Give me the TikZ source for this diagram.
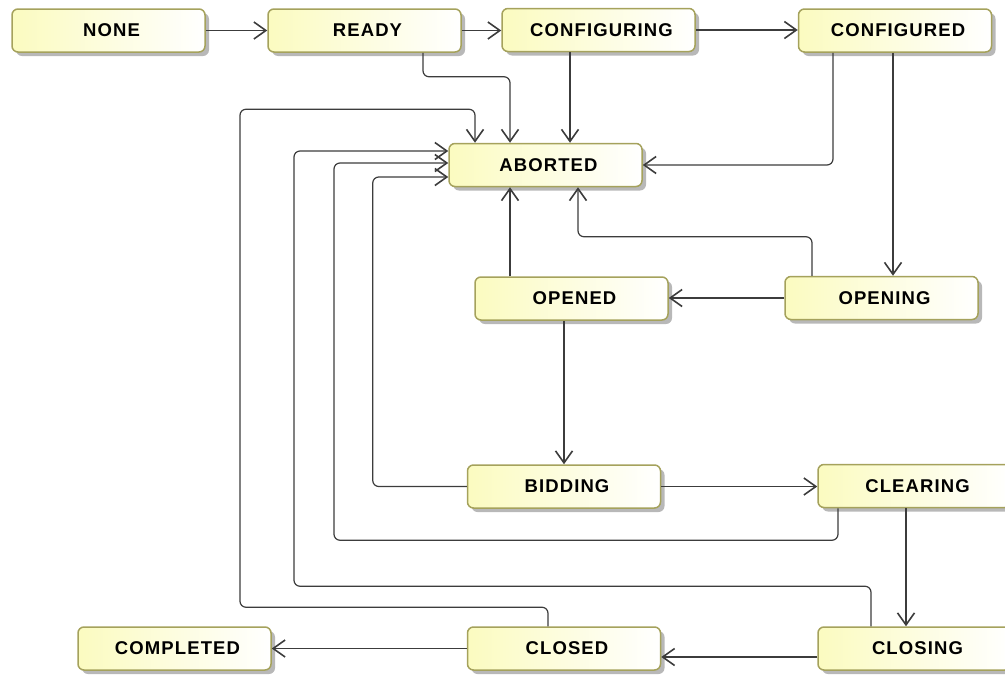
\documentclass[tikz,border=0pt]{standalone}
\usepackage{fontspec}
\newfontfamily\boxfont[LetterSpace=6]{Liberation Sans}
\usetikzlibrary{arrows.meta,shadows,calc}
\definecolor{boxborder}{RGB}{165,162,92}
\definecolor{boxfill}{RGB}{251,251,192}
\definecolor{connline}{RGB}{60,60,60}
\definecolor{shadowgray}{RGB}{184,184,184}
\begin{document}
\begin{tikzpicture}[x=1pt,y=-1pt,
  statebox/.style={rectangle, rounded corners=6pt, minimum width=193pt,
    minimum height=43pt, inner sep=0pt, draw=boxborder, line width=1.5pt,
    left color=boxfill, right color=white,
    drop shadow={shadow xshift=4pt, shadow yshift=-4pt, fill=shadowgray, opacity=1},
    font=\boxfont\bfseries\fontsize{18.5}{20}\selectfont,
    execute at begin node=\hspace*{6pt}},
  conn/.style={draw=connline, line width=1.2pt, rounded corners=6pt,
    -{Straight Barb[length=12pt,width=17pt,line width=1.6pt]}}]
\useasboundingbox (0,0) rectangle (1005,675);

% states
\node[statebox] (NONE)        at (108.5,30.5) {NONE};
\node[statebox] (READY)       at (364.5,30.5) {READY};
\node[statebox] (CONFIGURING) at (598.5,30)   {CONFIGURING};
\node[statebox] (CONFIGURED)  at (895,30.5)   {CONFIGURED};
\node[statebox] (ABORTED)     at (545.5,165)  {ABORTED};
\node[statebox] (OPENED)      at (571.5,298.5){OPENED};
\node[statebox] (OPENING)     at (881.5,298)  {OPENING};
\node[statebox] (BIDDING)     at (564,486.5)  {BIDDING};
\node[statebox] (CLEARING)    at (914.5,486)  {CLEARING};
\node[statebox] (CLOSED)      at (564,648.5)  {CLOSED};
\node[statebox] (CLOSING)     at (914.5,648.5){CLOSING};
\node[statebox] (COMPLETED)   at (174.5,648.5){COMPLETED};

% attachment points on ABORTED
\coordinate (aT1) at ([xshift=-70.5pt]ABORTED.north);
\coordinate (aT2) at ([xshift=-35.5pt]ABORTED.north);
\coordinate (aT3) at ([xshift=24.5pt]ABORTED.north);
\coordinate (aL1) at ([yshift=14pt]ABORTED.west);
\coordinate (aL2) at ([yshift=2pt]ABORTED.west);
\coordinate (aL3) at ([yshift=-12pt]ABORTED.west);
\coordinate (aB1) at ([xshift=-35.5pt]ABORTED.south);
\coordinate (aB2) at ([xshift=32.5pt]ABORTED.south);

% other attachment points
\coordinate (rdy1) at ([xshift=58.5pt]READY.south);
\coordinate (cfd1) at ([xshift=-62pt]CONFIGURED.south);
\coordinate (opT)  at ([xshift=11.5pt]OPENING.north);
\coordinate (opT2) at ([xshift=-69.5pt]OPENING.north);
\coordinate (clr1) at ([xshift=-76.5pt]CLEARING.south);
\coordinate (csT)  at ([xshift=-8.5pt]CLOSING.north);
\coordinate (csT2) at ([xshift=-43.5pt]CLOSING.north);
\coordinate (csW)  at ([yshift=-8.5pt]CLOSING.west);
\coordinate (cld1) at ([xshift=-16pt]CLOSED.north);

% main sequence
\draw[conn] (NONE.east) -- (READY.west);
\draw[conn] (READY.east) -- (READY.east -| CONFIGURING.west);
\draw[conn] (CONFIGURING.east) -- (CONFIGURING.east -| CONFIGURED.west);
\draw[conn] (opT |- CONFIGURED.south) -- (opT);
\draw[conn] (OPENING.west) -- (OPENING.west -| OPENED.east);
\draw[conn] (BIDDING.north |- OPENED.south) -- (BIDDING.north);
\draw[conn] (BIDDING.east) -- (BIDDING.east -| CLEARING.west);
\draw[conn] (csT |- CLEARING.south) -- (csT);
\draw[conn] (csW) -- (csW -| CLOSED.east);
\draw[conn] (CLOSED.west) -- (COMPLETED.east);

% transitions to ABORTED
\draw[conn] (rdy1) -- ++(0,24) -| (aT2);
\draw[conn] (aT3 |- CONFIGURING.south) -- (aT3);
\draw[conn] (cfd1) |- (ABORTED.east);
\draw[conn] (opT2) -- ++(0,-39) -| (aB2);
\draw[conn] (aB1 |- OPENED.north) -- (aB1);
\draw[conn] (BIDDING.west) -- ++(-94,0) |- (aL3);
\draw[conn] (clr1) -- ++(0,32) -- ++(-504,0) |- (aL2);
\draw[conn] (csT2) -- ++(0,-40) -- ++(-577,0) |- (aL1);
\draw[conn] (cld1) -- ++(0,-19) -- ++(-308,0) -- ++(0,-498) -| (aT1);
\end{tikzpicture}
\end{document}
